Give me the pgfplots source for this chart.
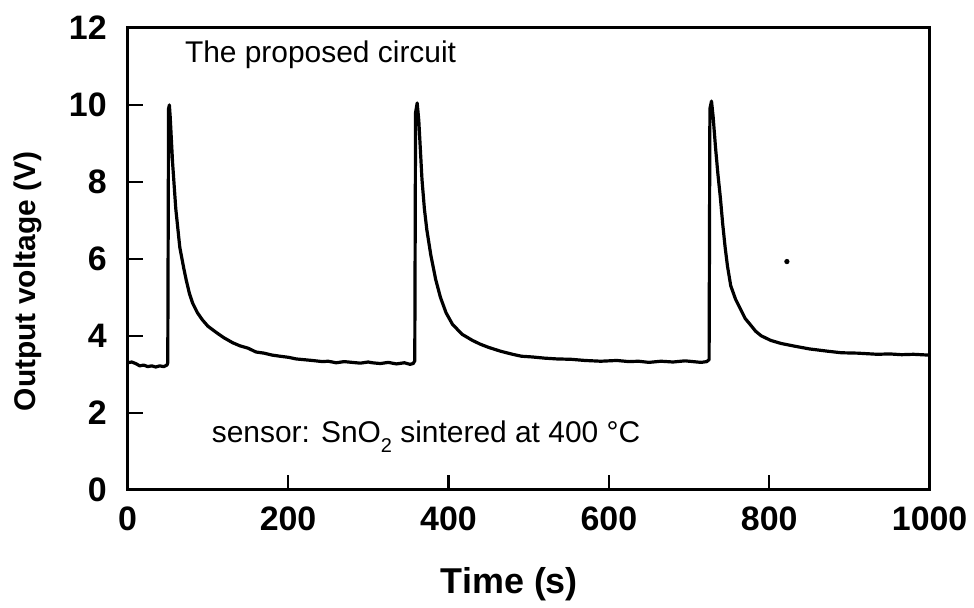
\documentclass[border=0pt]{standalone}
\usepackage{fontspec}
\setmainfont{Liberation Sans}
\usepackage{pgfplots}
\pgfplotsset{compat=1.18}

\begin{document}
\begin{tikzpicture}
\begin{axis}[
 scale only axis, width=402pt, height=231.5pt,
 xmin=0, xmax=1000, ymin=0, ymax=12,
 xtick={0,200,...,1000}, ytick={0,2,...,12},
 tick pos=left, tick align=inside,
 major tick length=7.5pt,
 every tick/.style={black, line width=1.2pt},
 axis line style={line width=1.5pt},
 /pgf/number format/assume math mode=true,
 /pgf/number format/1000 sep={},
 tick label style={font=\fontsize{17}{20}\selectfont\bfseries},
 xticklabel style={yshift=-5pt},
 yticklabel style={xshift=-7pt},
 xlabel={Time (s)}, ylabel={Output voltage (V)},
 every axis x label/.style={at={(axis description cs:0.476,-0.2246)}, anchor=base, font=\fontsize{18}{21}\selectfont\bfseries},
 every axis y label/.style={at={(axis description cs:-0.1244,0.451)}, rotate=90, anchor=center, font=\fontsize{15}{18}\selectfont\bfseries},
 clip=false,
]
\path (axis description cs:-0.1592,-0.2484) rectangle (axis description cs:1.0522,1.0605);

\addplot[black, line width=1.6pt, line join=round] coordinates {
(0,3.30) (5,3.32) (10,3.28) (15,3.22) (20,3.24) (25,3.20) (30,3.22) (35,3.19) (40,3.22) (45,3.20) (49,3.24) (50,3.30)
(51,9.9) (52,10.0) (53,9.7)
(56,8.5) (60,7.3) (65,6.3) (70,5.75) (73,5.45) (77,5.1) (81,4.85) (87,4.6) (93,4.42) (100,4.25) (111,4.08) (120,3.95)
(131,3.82) (140,3.74) (150,3.68) (160,3.58) (170,3.55) (180,3.50) (190,3.47) (201,3.44) (210,3.40) (220,3.38) (230,3.36)
(243,3.33) (250,3.34) (260,3.30) (270,3.33) (280,3.31) (290,3.29) (300,3.32) (305,3.30) (315,3.28) (325,3.31) (335,3.27)
(345,3.30) (352,3.26) (356,3.28) (358,3.35)
(359,9.8) (361,10.05) (363,9.6)
(367,8.06) (370,7.3) (373,6.76) (378,6.1) (384,5.47) (390,5.0) (397,4.6) (405,4.3) (417,4.04) (430,3.88) (440,3.78)
(450,3.70) (465,3.60) (480,3.52) (491,3.47) (505,3.45) (520,3.42) (535,3.40) (553,3.39) (570,3.36) (590,3.34) (610,3.36)
(625,3.33) (637,3.34) (650,3.31) (665,3.34) (680,3.32) (695,3.35) (705,3.33) (715,3.31) (722,3.33) (725,3.38)
(726,9.9) (728,10.1) (730,9.7)
(733,8.9) (736,8.2) (739,7.6) (742,6.9) (745,6.3) (748,5.8) (752,5.3) (758,4.95) (764,4.7) (770,4.45) (776,4.3) (783,4.12)
(790,4.0) (802,3.88) (815,3.80) (832,3.73) (850,3.66) (873,3.60) (890,3.56) (910,3.55) (935,3.52) (950,3.53) (965,3.51)
(980,3.52) (998,3.50) (1000,3.50)
};
\addplot[only marks, mark=*, mark size=1.1pt, black] coordinates {(822,5.93)};

\node[anchor=base west, inner sep=0pt, font=\fontsize{15}{18}\selectfont] at (axis cs:71,11.09) {The proposed circuit};
\node[anchor=base west, inner sep=0pt, font=\fontsize{15}{18}\selectfont] at (axis cs:104.5,1.24) {sensor: SnO\raisebox{-5pt}{\fontsize{10}{12}\selectfont 2} sintered at 400 °C};
\end{axis}
\end{tikzpicture}
\end{document}
